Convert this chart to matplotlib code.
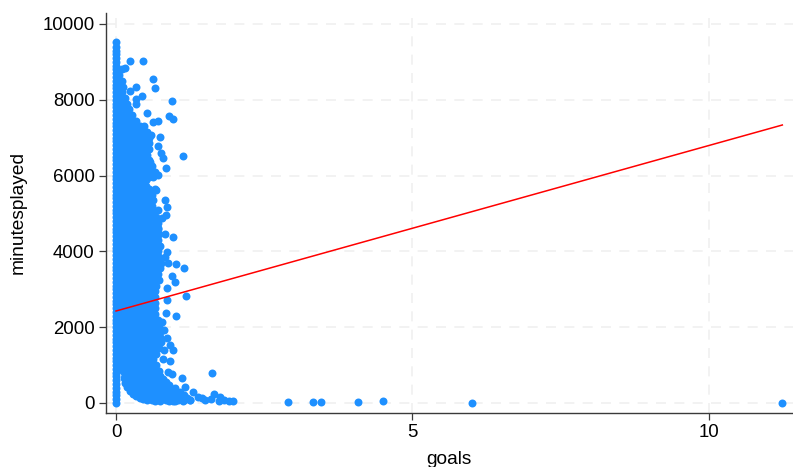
"""Scatter of minutes played against goals with a linear fit (Stata look)."""
import matplotlib
matplotlib.use("Agg")
import matplotlib.pyplot as plt

plt.rcParams["font.family"] = ["Liberation Sans", "DejaVu Sans"]

# players with no goals, the stack on the y axis
zero_minutes = [0, 100, 200, 300, 400, 500, 600, 700, 800, 900, 1000, 1100, 1200, 1300, 1400,
                1500, 1600, 1700, 1800, 1900, 2000, 2100, 2200, 2300, 2400, 2500, 2600, 2700,
                2800, 2900, 3000, 3100, 3200, 3300, 3400, 3500, 3600, 3700, 3800, 3900, 4000,
                4100, 4200, 4300, 4400, 4500, 4600, 4700, 4800, 4900, 5000, 5100, 5200, 5300,
                5400, 5500, 5600, 5700, 5800, 5900, 6000, 6100, 6200, 6300, 6400, 6500, 6600,
                6700, 6800, 6900, 7000, 7100, 7200, 7300, 7400, 7500, 7600, 7700, 7800, 7900,
                8000, 8100, 8200, 8300, 8400, 8500, 8600, 8700, 8800, 8900, 9000, 9100, 9200,
                9300, 9400, 9530]

# dense body of the cloud, one goals list per minutes level
row_minutes = [8800, 8650, 8500, 8350, 8200, 8050, 7900, 7750, 7600, 7450, 7300, 7150, 7000,
               6850, 6700, 6550, 6400, 6250, 6100, 5950, 5800, 5650, 5500, 5350, 5200, 5050,
               4900, 4750, 4600, 4450, 4300, 4150, 4000, 3850, 3700, 3550, 3400, 3250, 3100,
               2950, 2800, 2650, 2500, 2350, 2200, 2050, 1900, 1750, 1600, 1450, 1300, 1150,
               1000, 850, 775, 700, 625, 550, 475, 400, 300, 220, 140, 70,
               7525, 7375, 7225, 7075]
row_goals = [
    [.1], [.05], [.1], [.05, .12], [.1], [.05, .15], [.1, .18], [.05, .15, .22],
    [.1, .2, .27], [.05, .15, .25, .33], [.1, .2, .3, .4, .47],
    [.05, .15, .25, .35, .45, .52], [.1, .2, .3, .4, .5, .56],
    [.05, .15, .25, .35, .45, .55], [.1, .2, .3, .4, .5, .56],
    [.05, .15, .25, .35, .45, .53], [.1, .2, .3, .4, .5, .55],
    [.05, .15, .25, .35, .45, .55, .6], [.1, .2, .3, .4, .5, .6, .65],
    [.05, .15, .25, .35, .45, .55, .63], [.1, .2, .3, .4, .45],
    [.05, .15, .25, .35, .45, .55, .65], [.1, .2, .3, .4, .5, .6],
    [.05, .15, .25, .35, .45, .55, .62], [.1, .2, .3, .4, .5, .6],
    [.05, .15, .25, .35, .45, .55, .63], [.1, .2, .3, .4, .5, .6, .68],
    [.05, .15, .25, .35, .45, .55, .65, .7], [.1, .2, .3, .4, .5, .6, .7],
    [.05, .15, .25, .35, .45, .55, .65, .72], [.1, .2, .3, .4, .5, .6, .7],
    [.05, .15, .25, .35, .45, .55, .65, .72], [.1, .2, .3, .4, .5, .6, .7],
    [.05, .15, .25, .35, .45, .55, .65, .72], [.1, .2, .3, .4, .5, .6, .7, .76],
    [.05, .15, .25, .35, .45, .55, .65, .74], [.1, .2, .3, .4, .5, .6, .7],
    [.05, .15, .25, .35, .45, .55, .65, .72], [.1, .2, .3, .4, .5, .6, .68],
    [.05, .15, .25, .35, .45, .55, .65], [.1, .2, .3, .4, .5, .6, .65],
    [.05, .15, .25, .35, .45, .55, .65], [.1, .2, .3, .4, .5, .6, .66],
    [.05, .15, .25, .35, .45, .55, .65], [.1, .2, .3, .4, .5, .6, .7],
    [.05, .15, .25, .35, .45, .55, .65, .73], [.1, .2, .3, .4, .5, .6, .7, .76],
    [.05, .15, .25, .35, .45, .55, .65, .75], [.1, .2, .3, .4, .5, .6, .7, .76],
    [.05, .15, .25, .35, .45, .55, .65, .72], [.1, .2, .3, .4, .5, .6, .68],
    [.05, .15, .25, .35, .45, .55, .63], [.1, .2, .3, .4, .5, .6, .68],
    [.12, .15, .25, .35, .45, .55, .65, .72], [.15, .2, .3, .4, .5, .6, .7],
    [.16, .25, .35, .45, .55, .65, .75], [.18, .3, .4, .5, .6, .7, .8],
    [.2, .25, .35, .45, .55, .65, .75, .85], [.24, .3, .4, .5, .6, .7, .8, .9],
    [.27, .3, .4, .5, .6, .7, .8, .9, 1.0],
    [.35, .42, .5, .6, .7, .8, .9, 1.0, 1.08],
    [.45, .52, .6, .7, .8, .9, 1.0, 1.1, 1.15],
    [.6, .65, .75, .85, .95, 1.05, 1.15, 1.2],
    [.85, .95, 1.05, 1.15, 1.25],
    [.1, .2], [.1, .2, .28], [.1, .2, .3, .38], [.1, .2, .3, .4, .5],
]

# in-between points that close the gaps inside the body
core_goals = [.1, .2, .3, .4, .5]
core_minutes = [925, 1075, 1225, 1375, 1525, 1675, 1825, 1975, 2125, 2275, 2425, 2575, 2725,
                2875, 3025, 3175, 3325, 3475, 3625, 3775, 3925, 4075, 4225, 4375, 4525, 4675,
                4825, 4975, 5125, 5275, 5425, 5575, 5725, 5875, 6025, 6175, 6325, 6475, 6625,
                6775, 6925]
core_right_goals = [.6] * 24
core_right_minutes = [1075, 1225, 1375, 1525, 1675, 1825, 1975, 2125, 2275, 2425, 2575, 2725,
                      2875, 3025, 3175, 3325, 3475, 3625, 3775, 3925, 4075, 4225, 4375, 4525]

# lower edge of the cloud (one goal in few minutes)
edge_goals = [.135, .16, .185, .23, .287, .33, .4, .46, .52, .6, .66, .74, .9, 1.0]
edge_minutes = [660, 520, 422, 310, 237, 190, 140, 110, 92, 75, 65, 60, 50, 45]

# stragglers read one by one along the right side of the cloud
outer_goals = [.152, .24, .45, .62, .66, .94, .236, .337, .444, .332, .337, .523, .63, .70,
               .894, .966, .742, .59, .713, .759, .798, 1.125, .843, .713, .573, .675, .826,
               .855, .713, .843, .776, .713, .826, .966, .742, .865, .826, .882, 1.012, 1.147,
               .742, .939, .995, .855, 1.18, .865, .843, 1.017, .77, .81, .865, .91, .966,
               .81, .91, .798, .882, .939, 1.113, 1.62, 1.164, 1.30, 1.38, 1.653, 1.754, 1.50,
               1.98, 1.9, 1.73, 1.248, 1.6, 1.82, 1.45, .96, 1.13, 2.9, 3.33, 3.46, 4.09, 4.5,
               6.0, 11.24]
outer_minutes = [8847, 9035, 9035, 8555, 8320, 7975, 8230, 8337, 8108, 8020, 7880, 7660, 7415,
                 7430, 7565, 7485, 7026, 7070, 6780, 6605, 6465, 6525, 6190, 6016, 6367, 5620,
                 5356, 5180, 5092, 4960, 4873, 4609, 4459, 4388, 4142, 3976, 3860, 3686, 3660,
                 3554, 3641, 3351, 3200, 3026, 2831, 2718, 2367, 2303, 2145, 1926, 1707, 1530,
                 1398, 1398, 1108, 1161, 826, 765, 652, 784, 414, 282, 166, 230, 166, 79, 53,
                 60, 60, 79, 110, 90, 120, 53, 53, 20, 20, 20, 37, 45, 10, 12]

# fitted line end points
fit_goals = [0, 11.24]
fit_minutes = [2427, 7335]

xticks = [0, 5, 10]
yticks = [0, 2000, 4000, 6000, 8000, 10000]

fig = plt.figure(figsize=(7.93, 4.67), dpi=100)
ax = fig.add_axes([105.7 / 793, 1 - 413 / 467, (793 - 105.7) / 793, 400 / 467])

blue = "#1e90ff"
size = 33
ax.scatter([0] * len(zero_minutes), zero_minutes, s=size, color=blue, linewidths=0, zorder=3)
for m, gs in zip(row_minutes, row_goals):
    ax.scatter(gs, [m] * len(gs), s=size, color=blue, linewidths=0, zorder=3)
for g in core_goals:
    ax.scatter([g] * len(core_minutes), core_minutes, s=size, color=blue, linewidths=0, zorder=3)
ax.scatter(core_right_goals, core_right_minutes, s=size, color=blue, linewidths=0, zorder=3)
ax.scatter(edge_goals, edge_minutes, s=size, color=blue, linewidths=0, zorder=3)
ax.scatter(outer_goals, outer_minutes, s=size, color=blue, linewidths=0, zorder=3)
ax.plot(fit_goals, fit_minutes, color="#ff0000", lw=1.1, zorder=4)

ax.set_xlim(-0.174, 11.42)
ax.set_ylim(-264, 10290)
ax.set_xticks(xticks)
ax.set_yticks(yticks)
ax.grid(True, color="#f0f0f0", lw=1.2, ls=(0, (6, 5)), zorder=0)
ax.set_axisbelow(True)
for s in ("top", "right"):
    ax.spines[s].set_visible(False)
for s in ("left", "bottom"):
    ax.spines[s].set_color("#3a3a3a")
    ax.spines[s].set_linewidth(1.0)
ax.tick_params(length=4.8, width=0.9, color="#3a3a3a", labelsize=13.4, pad=3, labelcolor="black")

fig.text(449 / 793, 1 - 459 / 467, "goals", fontsize=13.8, ha="center", va="center")
fig.text(18.5 / 793, 1 - 213 / 467, "minutesplayed", fontsize=13.8, rotation=90, ha="center", va="center")

fig.savefig("out.png", dpi=100)
plt.close(fig)
